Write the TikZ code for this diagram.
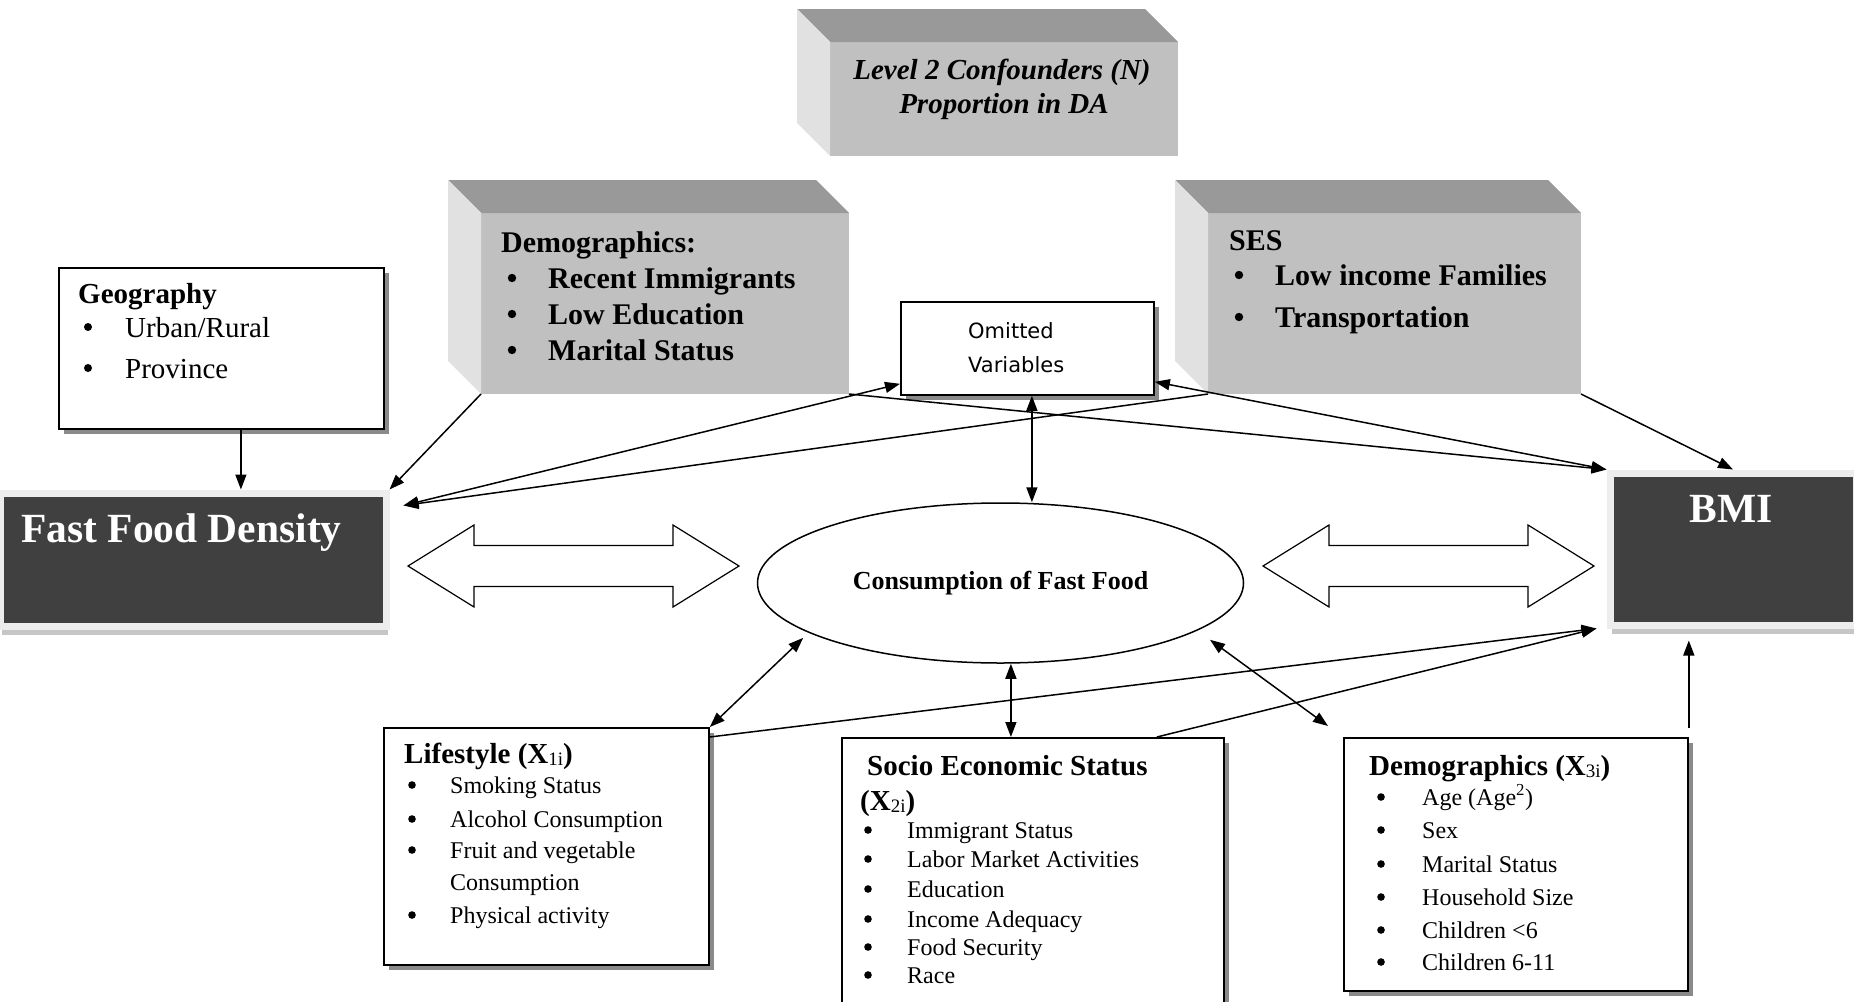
\documentclass[tikz,border=0pt]{standalone}
\usepackage{fontspec}
\setmainfont{Liberation Serif}
\newfontfamily\omitfont{DejaVu Sans}
\usepackage{tikz}
\usetikzlibrary{arrows.meta,positioning,shapes.geometric,calc,shadows}
\definecolor{slab}{HTML}{C0C0C0}
\definecolor{slabtop}{HTML}{999999}
\definecolor{slabside}{HTML}{E1E1E1}
\definecolor{ink}{HTML}{404040}
\definecolor{rim}{HTML}{EDEDED}
\definecolor{rimdk}{HTML}{C6C6C6}
\definecolor{shade}{HTML}{8A8A8A}
\newcommand{\sbs}[1]{\raisebox{-2pt}{\fontsize{19}{19}\selectfont\mdseries #1}}
\tikzset{
  slabface/.style={rectangle, fill=slab, inner sep=0pt, outer sep=0pt, anchor=north west},
  box/.style={rectangle, draw=black, fill=white, line width=1.8pt, inner sep=0pt, anchor=north west,
              drop shadow={shadow xshift=5pt, shadow yshift=-5pt, fill=shade, opacity=1}},
  darkbox/.style={rectangle, fill=ink, draw=rim, line width=7pt, inner sep=0pt, anchor=north west,
              drop shadow={shadow xshift=2pt, shadow yshift=-8.5pt, fill=rimdk, opacity=1}},
  lvltxt/.style={font=\fontsize{29}{29}\selectfont\bfseries\itshape, anchor=base, inner sep=0pt},
  slabtxt/.style={font=\fontsize{30}{30}\selectfont\bfseries, anchor=base west, inner sep=0pt},
  ttl/.style={font=\fontsize{29}{29}\selectfont\bfseries, anchor=base west, inner sep=0pt},
  geoitm/.style={font=\fontsize{29}{29}\selectfont, anchor=base west, inner sep=0pt},
  itm/.style={font=\fontsize{24}{24}\selectfont, anchor=base west, inner sep=0pt},
  bigtxt/.style={font=\fontsize{41.5}{42}\selectfont\bfseries, text=white, inner sep=0pt},
  omtxt/.style={font=\omitfont\fontsize{21}{21}\selectfont, anchor=base west, inner sep=0pt},
  dot/.style={fill=black},
  blk/.style={draw=black, fill=white, line width=1.2pt},
  arr/.style={-{Triangle[length=15pt,width=11pt]}, line width=1.5pt},
  darr/.style={{Triangle[length=15pt,width=11pt]}-{Triangle[length=15pt,width=11pt]}, line width=1.5pt},
}

\begin{document}
\begin{tikzpicture}[x=1pt,y=-1pt]
  \path[use as bounding box, fill=white] (0,0) rectangle (1854,1001);

  % grey slabs (front faces, then top and side)
  \node[slabface, minimum width=348pt, minimum height=114pt] (lvl) at (830,42) {};
  \node[slabface, minimum width=368pt, minimum height=181pt] (dem) at (481,213) {};
  \node[slabface, minimum width=373pt, minimum height=181pt] (sesb) at (1208,213) {};
  \foreach \s in {lvl,dem,sesb}{
    \fill[slabtop] (\s.north west) -- ++(-33,-33) -- ($(\s.north east)+(-33,-33)$) -- (\s.north east) -- cycle;
    \fill[slabside] (\s.north west) -- ++(-33,-33) -- ($(\s.south west)+(-33,-33)$) -- (\s.south west) -- cycle;
  }
  \node[lvltxt] (lvlA) at (1002,79) {Level 2 Confounders (N)};
  \node[lvltxt] (lvlB) at (1004,113) {Proportion in DA};
  \node[slabtxt] (demT) at (501,252) {Demographics:};
  \foreach \t/\y [count=\i] in {Recent Immigrants/288, Low Education/324, Marital Status/360}{
    \node[slabtxt] (dem\i) at (548,\y) {\t};
    \fill[dot] (512,{\y-10}) circle (4.2pt);
  }
  \node[slabtxt] (sesT) at (1229,250) {SES};
  \foreach \t/\y [count=\i] in {Low income Families/285, Transportation/327}{
    \node[slabtxt] (ses\i) at (1275,\y) {\t};
    \fill[dot] (1239,{\y-10}) circle (4.2pt);
  }

  % outcome and exposure
  \node[darkbox, minimum width=386pt, minimum height=133pt] (ffd) at (-3.5,489.5) {};
  \node[bigtxt, anchor=base west] (ffdT) at (21,542) {Fast Food Density};
  \node[darkbox, minimum width=246pt, minimum height=152pt] (bmi) at (1606.5,469.5) {};
  \node[bigtxt, anchor=base] (bmiT) at (1731,522) {BMI};

  % white boxes
  \node[box, minimum width=325pt, minimum height=161pt] (geo) at (58,267) {};
  \node[ttl] (geoT) at (78,303) {Geography};
  \foreach \t/\y [count=\i] in {{Urban/Rural}/337, Province/378}{
    \node[geoitm] (geo\i) at (125,\y) {\t};
    \fill[dot] (88,{\y-10}) circle (4pt);
  }

  \node[box, minimum width=253pt, minimum height=93pt] (omit) at (900,301) {};
  \node[omtxt] (omA) at (968,338) {Omitted};
  \node[omtxt] (omB) at (968,372) {Variables};

  \node[ellipse, draw, fill=white, line width=1.5pt, minimum width=486pt, minimum height=160pt,
        font=\fontsize{26}{26}\selectfont\bfseries] (cons) at (1000.5,583) {Consumption of Fast Food};

  \node[box, minimum width=325pt, minimum height=237pt] (ls) at (383,727) {};
  \node[ttl] (lsT) at (404,763) {Lifestyle (X\sbs{1i})};
  \foreach \t/\y [count=\i] in {Smoking Status/793, Alcohol Consumption/827, Fruit and  vegetable/858, Physical activity/923}{
    \node[itm] (ls\i) at (450,\y) {\t};
    \fill[dot] (412,{\y-8}) circle (3.8pt);
  }
  \node[itm] (ls5) at (450,890) {Consumption};

  \node[box, minimum width=382pt, minimum height=300pt] (sesx) at (841,737) {};
  \node[ttl] (sesxT) at (867,775) {Socio Economic Status};
  \node[ttl] (sesxX) at (860,810) {(X\sbs{2i})};
  \foreach \t/\y [count=\i] in {Immigrant Status/838, Labor Market Activities/867, Education/897,
                                Income Adequacy/927, Food Security/955, Race/983}{
    \node[itm] (sesx\i) at (907,\y) {\t};
    \fill[dot] (868,{\y-8}) circle (3.8pt);
  }

  \node[box, minimum width=344pt, minimum height=253pt] (dx) at (1343,737) {};
  \node[ttl] (dxT) at (1369,775) {Demographics (X\sbs{3i})};
  \foreach \t/\y [count=\i] in {Age (Age\textsuperscript{2})/805, Sex/838, Marital Status/872,
                                Household Size/905, Children <6/938, Children 6-11/970}{
    \node[itm] (dx\i) at (1422,\y) {\t};
    \fill[dot] (1381,{\y-8}) circle (3.8pt);
  }

  % block arrows either side of the ellipse
  \foreach \x in {408,1263}
    \draw[blk] (\x,566) -- ++(66,-41) -- ++(0,20.5) -- ++(199,0) -- ++(0,-20.5) -- ++(66,41)
               -- ++(-66,41) -- ++(0,-20.5) -- ++(-199,0) -- ++(0,20.5) -- cycle;

  % connectors
  \coordinate (ffdin) at ([shift={(14,16)}]ffd.north east);
  \coordinate (bmiin) at ([xshift=-10pt]bmi.south west);
  \draw[arr] ([xshift=19.5pt]geo.south) -- ([xshift=19.5pt]geo.south |- ffd.north);
  \draw[arr] (dem.south west) -- (ffd.north east);
  \draw[arr] (sesb.south west) -- (ffdin);
  \draw[darr] (ffdin) -- ([yshift=12pt]omit.south west);
  \draw[arr] (dem.south east) -- (bmi.north west);
  \draw[darr] ([yshift=14pt]omit.south east) -- (bmi.north west);
  \draw[arr] (sesb.south east) -- (bmi.north);
  \draw[darr] ([xshift=4.5pt]omit.south) -- ([xshift=4.5pt]omit.south |- cons.north);
  \draw[darr] ([shift={(-13,2)}]cons.196) -- (ls.north east);
  \draw[darr] ([xshift=-22pt]sesx.north) -- ([xshift=-22pt]sesx.north |- cons.south);
  \draw[darr] ([shift={(20,6)}]cons.345) -- ([shift={(-15,-11)}]dx.north west);
  \draw[arr] ([yshift=-10pt]ls.north east) -- (bmiin);
  \draw[arr] ([xshift=-68pt]sesx.north east) -- (bmiin);
  \draw[arr] ([yshift=9pt]dx.north east) -- ([yshift=-12pt]dx.north east |- bmi.south);
\end{tikzpicture}
\end{document}
